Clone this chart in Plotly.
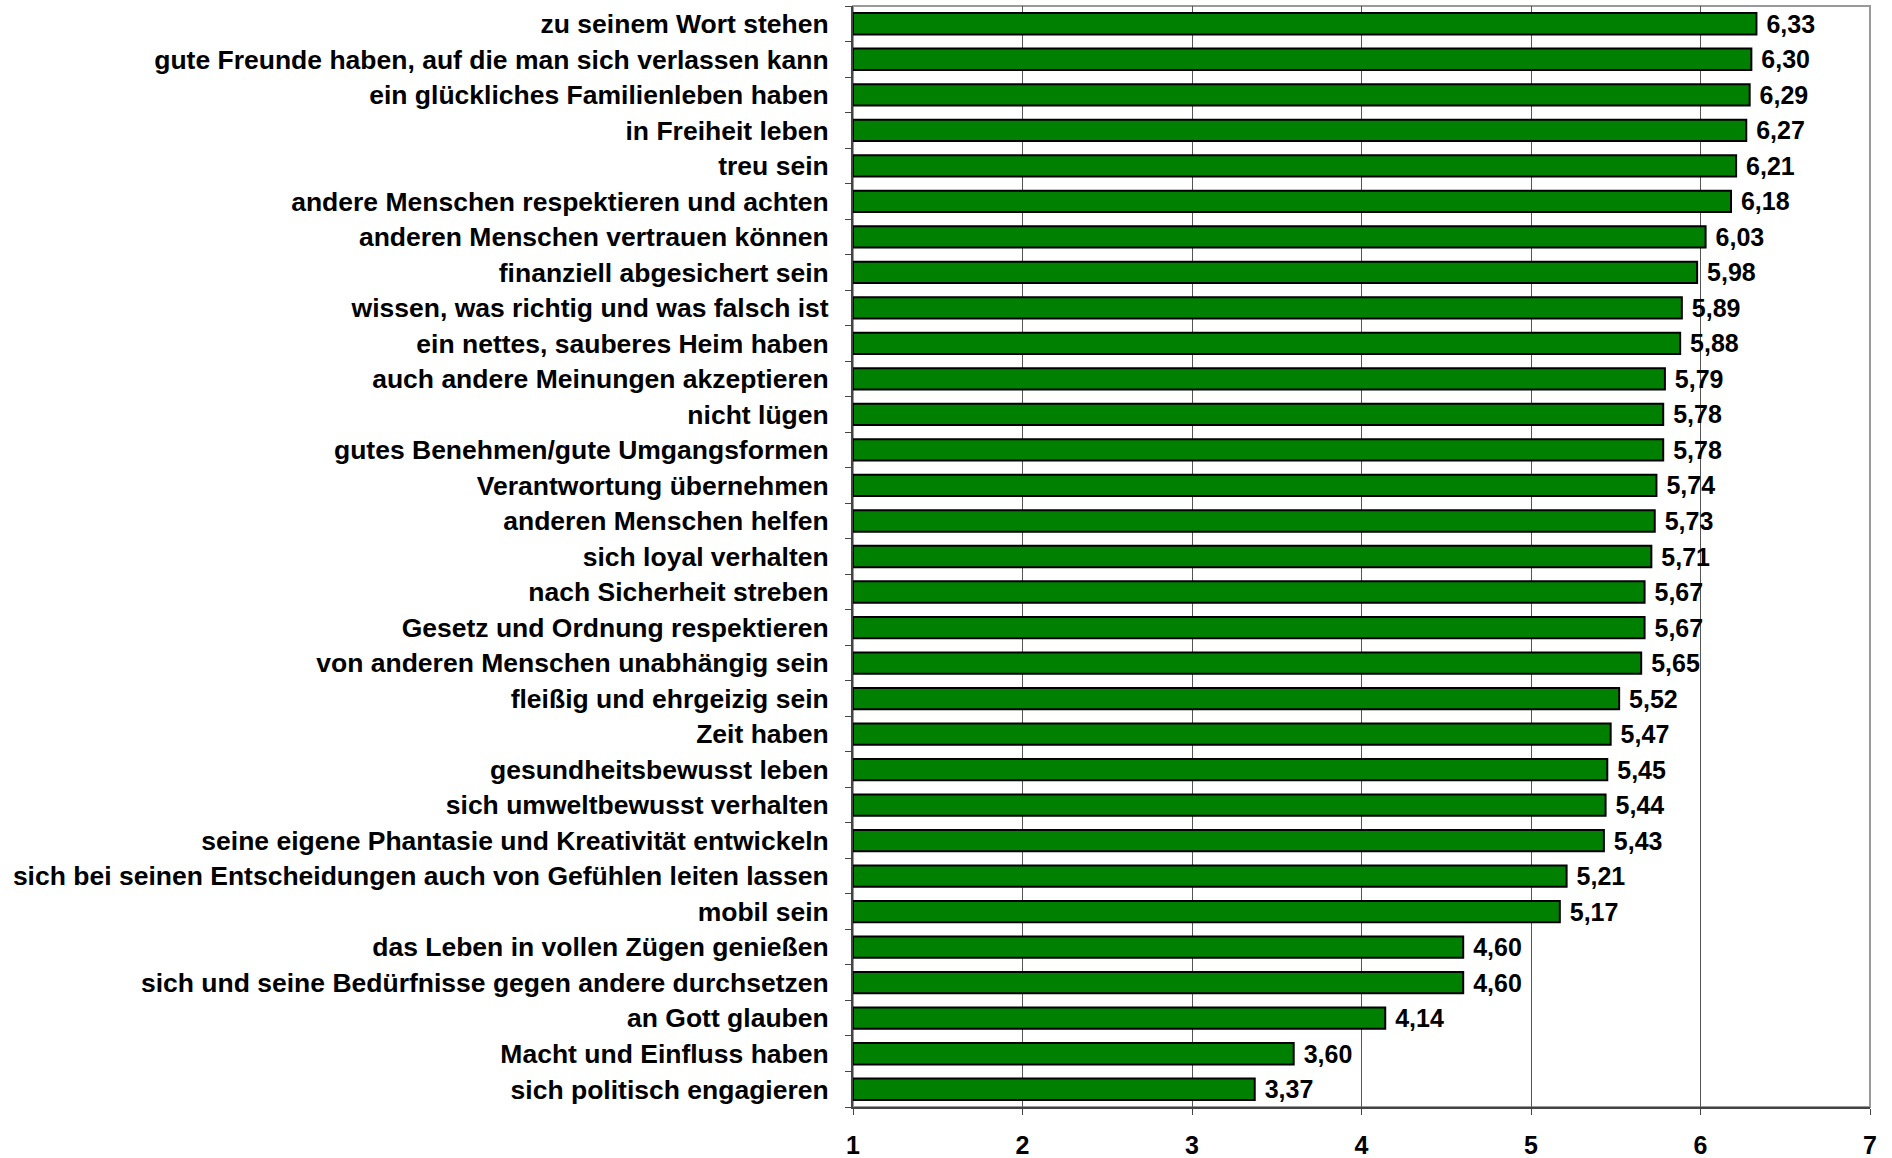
import plotly.graph_objects as go

labels = [
    "zu seinem Wort stehen",
    "gute Freunde haben, auf die man sich verlassen kann",
    "ein glückliches Familienleben haben",
    "in Freiheit leben",
    "treu sein",
    "andere Menschen respektieren und achten",
    "anderen Menschen vertrauen können",
    "finanziell abgesichert sein",
    "wissen, was richtig und was falsch ist",
    "ein nettes, sauberes Heim haben",
    "auch andere Meinungen akzeptieren",
    "nicht lügen",
    "gutes Benehmen/gute Umgangsformen",
    "Verantwortung übernehmen",
    "anderen Menschen helfen",
    "sich loyal verhalten",
    "nach Sicherheit streben",
    "Gesetz und Ordnung respektieren",
    "von anderen Menschen unabhängig sein",
    "fleißig und ehrgeizig sein",
    "Zeit haben",
    "gesundheitsbewusst leben",
    "sich umweltbewusst verhalten",
    "seine eigene Phantasie und Kreativität entwickeln",
    "sich bei seinen Entscheidungen auch von Gefühlen leiten lassen",
    "mobil sein",
    "das Leben in vollen Zügen genießen",
    "sich und seine Bedürfnisse gegen andere durchsetzen",
    "an Gott glauben",
    "Macht und Einfluss haben",
    "sich politisch engagieren",
]
values = [6.33, 6.30, 6.29, 6.27, 6.21, 6.18, 6.03, 5.98, 5.89, 5.88, 5.79,
          5.78, 5.78, 5.74, 5.73, 5.71, 5.67, 5.67, 5.65, 5.52, 5.47, 5.45,
          5.44, 5.43, 5.21, 5.17, 4.60, 4.60, 4.14, 3.60, 3.37]
xticks = [1, 2, 3, 4, 5, 6, 7]

font = "Liberation Sans, Arial, sans-serif"

fig = go.Figure(go.Bar(
    x=[v - 1 for v in values],
    base=1,
    y=labels,
    orientation="h",
    marker=dict(color="#008000", line=dict(color="black", width=2)),
    text=["\u00a0" + f"{v:.2f}".replace(".", ",") for v in values],
    textposition="outside",
    constraintext="none",
    textfont=dict(family=font, size=25, color="black", weight="bold"),
    cliponaxis=False,
    width=0.6,
))

fig.update_layout(
    width=1892, height=1158,
    margin=dict(l=853, r=22, t=6, b=51),
    plot_bgcolor="white", paper_bgcolor="white",
    showlegend=False,
    font=dict(family=font, color="black"),
    xaxis=dict(
        range=[1, 7], tickvals=xticks,
        showgrid=True, gridcolor="#555555", gridwidth=1,
        showline=True, linecolor="#444444", linewidth=2,
        ticks="outside", ticklen=6, tickcolor="#444444",
        tickfont=dict(size=25, weight="bold"),
        ticklabelstandoff=9,
        zeroline=False, automargin=False,
    ),
    yaxis=dict(
        categoryorder="array", categoryarray=labels[::-1],
        showline=True, linecolor="#444444", linewidth=2,
        ticks="outside", tickson="boundaries", ticklen=6, tickcolor="#444444",
        tickfont=dict(size=26.5, weight="bold"),
        ticklabelstandoff=17,
        showgrid=False, automargin=False,
    ),
    shapes=[dict(type="rect", xref="paper", yref="paper", x0=0, x1=1, y0=0, y1=1,
                 line=dict(color="#999999", width=2), layer="below")],
)

# drop the default page margin so the figure fills the window exactly
fig.write_html("out.html",
               config={"displayModeBar": False},
               post_script="document.body.style.margin='0';"
                           "document.body.style.overflow='hidden';")
